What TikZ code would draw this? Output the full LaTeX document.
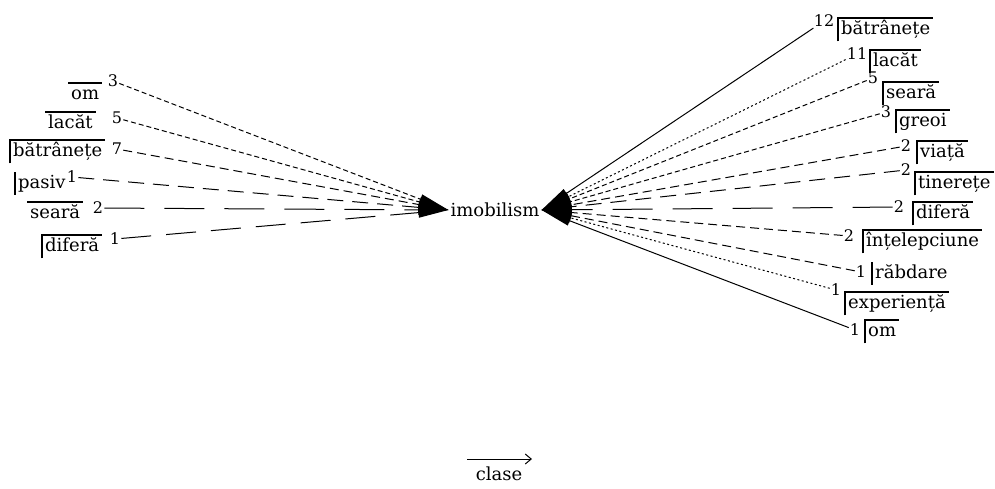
\documentclass[tikz,border=0pt]{standalone}
\usepackage{fontspec}
\setmainfont{DejaVu Serif}
\usetikzlibrary{arrows.meta}
\tikzset{
  word/.style={font=\fontsize{18}{21}\selectfont,inner xsep=3pt,inner ysep=1.5pt,
               text height=15pt,text depth=5pt,anchor=north west},
  num/.style={font=\fontsize{16}{18}\selectfont,inner sep=1pt},
  frame/.style={line width=1.2pt},
  conn/.style={line width=1pt,-{Triangle[length=30pt,width=10pt]}},
  lnsolid/.style={solid},
  lndot/.style={dash pattern=on 2pt off 2.5pt},
  lnshort/.style={dash pattern=on 5pt off 3pt},
  lnmid/.style={dash pattern=on 9pt off 5pt},
  lnlong/.style={dash pattern=on 16pt off 9pt},
  lnxlong/.style={dash pattern=on 30pt off 15pt},
  lnxxlong/.style={dash pattern=on 40pt off 20pt},
}
\begin{document}
\begin{tikzpicture}[x=1pt,y=-1pt]
  \useasboundingbox (0,0) rectangle (995,488);
  % centre word
  \node[font=\fontsize{18}{21}\selectfont,inner sep=2pt] (c) at (495,210) {imobilism};
  % left words
  \foreach \lx/\ly/\wrd/\nm/\mx/\my/\pat [count=\k] in {68/83/om/3/113/81/lnshort,
      45/112/lacăt/5/117/118/lnshort,10/140/bătrânețe/7/117/149/lnmid,
      15/172/pasiv/1/72/177/lnlong,27/202/seară/2/98/208/lnxxlong,
      42/235/diferă/1/115/239/lnxlong}{
    \node[word] (l\k) at (\lx,\ly) {\wrd};
    \node[num] (ln\k) at (\mx,\my) {\nm};
    \draw[conn,\pat] (ln\k) -- (c.west);
  }
  \draw[frame] (l1.north west) -- (l1.north east);
  \draw[frame] (l2.north west) -- (l2.north east);
  \draw[frame] (l3.south west) |- (l3.north east);
  \draw[frame] (l4.north west) -- (l4.south west);
  \draw[frame] (l5.north west) -- (l5.north east);
  \draw[frame] (l6.south west) |- (l6.north east);
  % right words
  \foreach \cx/\cy/\wrd/\nm/\mx/\my/\pat [count=\k] in {838/18/bătrânețe/12/824/21/lnsolid,
      870/50/lacăt/11/857/54/lndot,883/82/seară/5/873/78/lnshort,
      896/110/greoi/3/886/112/lnshort,917/141/viață/2/906/146/lnmid,
      915/172/tinerețe/2/906/170/lnlong,913/202/diferă/2/899/207/lnxxlong,
      863/230/înțelepciune/2/849/236/lnmid,872/262/răbdare/1/861/272/lnmid,
      845/292/experiență/1/836/290/lndot,865/320/om/1/855/330/lnsolid}{
    \node[word] (r\k) at (\cx,\cy) {\wrd};
    \node[num] (rn\k) at (\mx,\my) {\nm};
    \draw[conn,\pat] (rn\k) -- (c.east);
    \ifnum\k=9
      \draw[frame] (r\k.north west) -- (r\k.south west);
    \else
      \draw[frame] (r\k.south west) |- (r\k.north east);
    \fi
  }
  % legend
  \coordinate (ga) at (467,459);
  \coordinate (gb) at (532,459);
  \draw[line width=1pt,-{Straight Barb[length=6pt,width=10pt]}] (ga) -- (gb);
  \node[font=\fontsize{18}{21}\selectfont,inner sep=1pt] (gl) at (499,474) {clase};
\end{tikzpicture}
\end{document}
